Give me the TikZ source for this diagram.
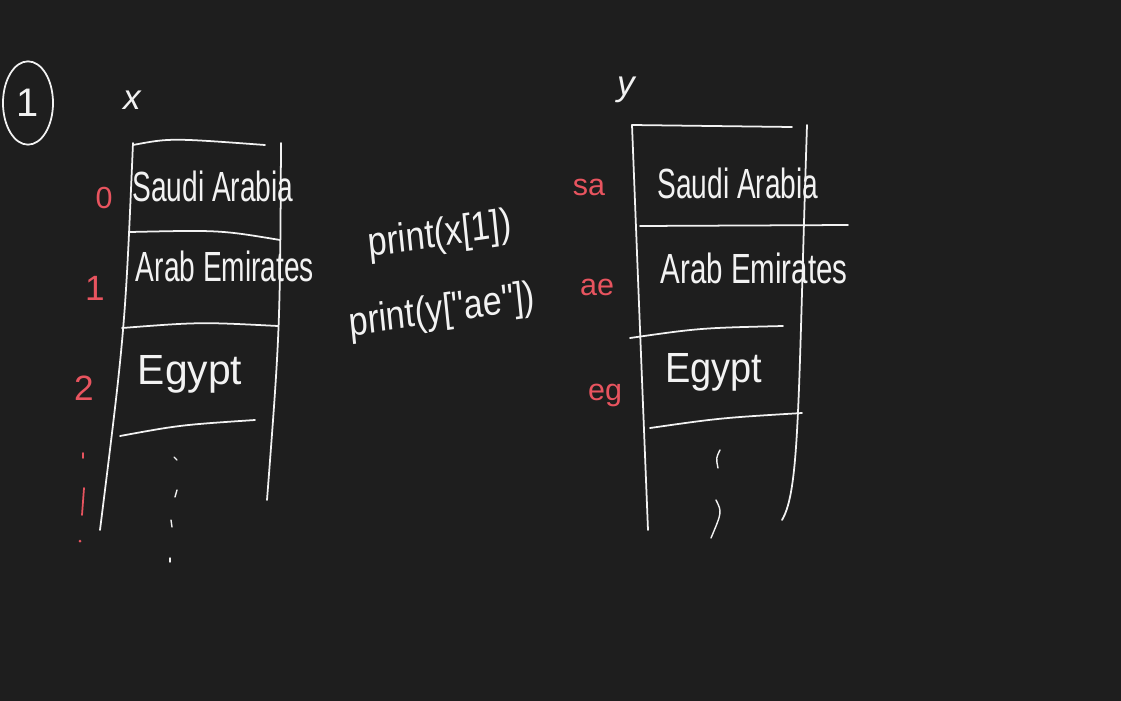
\documentclass[tikz,border=0pt]{standalone}
\usepackage{fontspec}
\usetikzlibrary{shapes.geometric}
\setmainfont{Liberation Sans}
\definecolor{bg}{HTML}{1E1E1E}
\definecolor{ink}{HTML}{F2F2F2}
\definecolor{redink}{HTML}{E8545F}
\begin{document}
\begin{tikzpicture}[x=0.03cm,y=-0.03cm,
  pen/.style={draw=ink,line width=1.5pt,line cap=round,line join=round},
  rpen/.style={draw=redink,line width=1.5pt,line cap=round},
  cell/.style={text=ink,font=\fontsize{24}{24}\selectfont,yscale=1.5,inner sep=0pt},
  idx/.style={text=redink,font=\fontsize{26}{26}\selectfont,inner sep=0pt},
  lbl/.style={text=ink,font=\fontsize{30}{30}\itshape\selectfont,inner sep=0pt},
  code/.style={text=ink,font=\fontsize{29}{29}\selectfont,yscale=1.2,inner sep=0pt}]
\fill[bg] (0,0) rectangle (1121,701);
\useasboundingbox (0,0) rectangle (1121,701);

% circled 1
\node[pen,ellipse,minimum width=1.5cm,minimum height=2.5cm,inner sep=0pt,
      text=ink,font=\fontsize{34}{34}\selectfont] (c1) at (28,103) {1};

% labels x and y
\node[lbl] (xl) at (132,100) {x};
\node[lbl] (yl) at (626,90) {y};

% ---------- left table (list x) ----------
\coordinate (xtl) at (133,143);
\coordinate (xbl) at (100,530);
\coordinate (xtr) at (281,143);
\coordinate (xbr) at (267,500);
\draw[pen] (xtl) .. controls (125,330) .. (xbl);
\draw[pen] (xtr) .. controls (280,330) .. (xbr);
\draw[pen] (133,145) .. controls (170,138) .. (265,145);
\draw[pen] (130,232) .. controls (220,230) .. (280,240);
\draw[pen] (122,328) .. controls (200,322) .. (278,326);
\draw[pen] (120,436) .. controls (180,425) .. (255,420);

\node[cell] (x0) at (213,186) {Saudi Arabia};
\node[cell] (x1) at (225,266) {Arab Emirates};
\node[cell,xscale=1.45] (x2) at (190,374) {Egypt};

\node[idx] (i0) at (104,198) {0};
\node[idx,font=\fontsize{30}{30}\selectfont] (i1) at (95,288) {1};
\node[idx,font=\fontsize{30}{30}\selectfont] (i2) at (84,388) {2};
\draw[rpen] (83,453) -- (83,458);
\draw[rpen] (84,488) -- (82,515);
\fill[redink] (80,541) circle (1.5);

\draw[pen,line width=1.2pt] (174,457) -- (177,460);
\draw[pen,line width=1.2pt] (177,490) -- (175,497);
\draw[pen,line width=1.2pt] (171,520) -- (172,527);
\draw[pen,line width=1.2pt] (170,558) -- (170,562);

% ---------- middle code ----------
\node[code,rotate=7] (p1) at (440,236) {print(x[1])};
\node[code,rotate=7] (p2) at (442,312) {print(y[\textquotedbl ae\textquotedbl])};

% ---------- right table (dict y) ----------
\coordinate (ytl) at (632,125);
\coordinate (ybl) at (648,530);
\coordinate (ytr) at (807,125);
\coordinate (ybr) at (782,520);
\draw[pen] (ytl) .. controls (640,330) .. (ybl);
\draw[pen] (ytr) .. controls (798,400) and (800,490) .. (ybr);
\draw[pen] (632,125) -- (792,127);
\draw[pen] (640,226) -- (848,225);
\draw[pen] (630,338) .. controls (700,328) .. (783,326);
\draw[pen] (650,428) .. controls (720,418) .. (802,413);

\node[cell] (y0) at (738,183) {Saudi Arabia};
\node[cell,xscale=1.05] (y1) at (754,268) {Arab Emirates};
\node[cell,xscale=1.35] (y2) at (714,372) {Egypt};

\node[idx] (ksa) at (589,187) {sa};
\node[idx] (kae) at (597,287) {ae};
\node[idx] (keg) at (605,395) {eg};

\draw[pen,line width=1.2pt] (720,450) .. controls (716,458) .. (718,468);
\draw[pen,line width=1.2pt] (716,500) .. controls (722,512) .. (711,538);
\end{tikzpicture}
\end{document}
